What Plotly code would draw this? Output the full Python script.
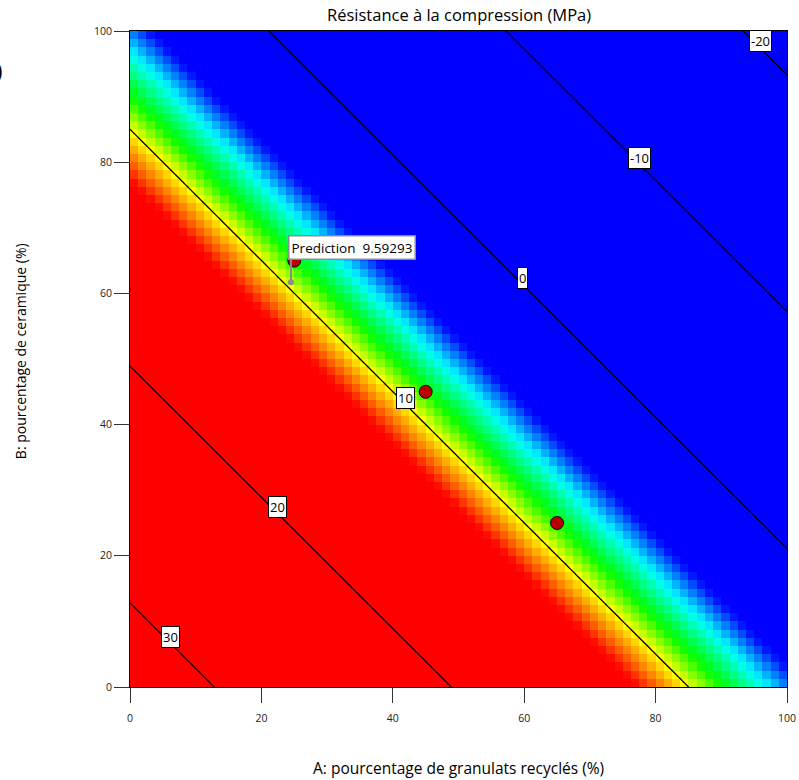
import numpy as np
import plotly.graph_objects as go

# ---- data ----
title_text = "Résistance à la compression (MPa)"
x_title = "A: pourcentage de granulats recyclés (%)"
y_title = "B: pourcentage de ceramique (%)"
tick_vals = [0, 20, 40, 60, 80, 100]
tick_text = ["0", "20", "40", "60", "80", "100"]

# fitted linear model: R = c0 + cA*A + cB*B
model_c0 = 33.55
model_cA = -0.277
model_cB = -0.277

contour_levels = [-20, -10, 0, 10, 20, 30]
design_A = [25, 45, 65]
design_B = [65, 45, 25]
pred_A = 24.5
pred_B = 61.7
pred_text = "Prediction  9.59293"

# colour stops (value -> colour)
stop_vals = [5.0, 6.7, 8.5, 10.0, 12.2]
stop_cols = ["#0000ff", "#00ffff", "#00ff00", "#ffff00", "#ff0000"]

# ---- grids ----
n_cells = 80
cw = 100.0 / n_cells
xc = (np.arange(n_cells) + 0.5) * cw
yc = (np.arange(n_cells) + 0.5) * cw
XX, YY = np.meshgrid(xc, yc)
Z = model_c0 + model_cA * XX + model_cB * YY

xf = np.linspace(0, 100, 201)
XF, YF = np.meshgrid(xf, xf)
ZF = model_c0 + model_cA * XF + model_cB * YF

zmin, zmax = stop_vals[0], stop_vals[-1]
cscale = [[(v - zmin) / (zmax - zmin), c] for v, c in zip(stop_vals, stop_cols)]

FONT = "Open Sans"

fig = go.Figure()
fig.add_trace(go.Heatmap(
    x=xc, y=yc, z=Z, zmin=zmin, zmax=zmax, colorscale=cscale,
    showscale=False, zsmooth=False, hoverinfo="skip"))
fig.add_trace(go.Contour(
    x=xf, y=xf, z=ZF, showscale=False, hoverinfo="skip",
    contours=dict(coloring="none", start=min(contour_levels),
                  end=max(contour_levels), size=10, showlabels=False),
    line=dict(color="black", width=1.3)))
fig.add_trace(go.Scatter(
    x=design_A, y=design_B, mode="markers", hoverinfo="skip",
    marker=dict(size=13, color="#b80000", line=dict(color="black", width=1))))
# prediction flag pin
fig.add_trace(go.Scatter(
    x=[pred_A, pred_A], y=[pred_B, pred_B + 3.4], mode="lines", hoverinfo="skip",
    line=dict(color="#8c8c8c", width=2)))
fig.add_trace(go.Scatter(
    x=[pred_A], y=[pred_B], mode="markers", hoverinfo="skip",
    marker=dict(size=6, color="#8c8c8c")))

annotations = []
# contour labels placed on their lines
label_A = {30: 6.2, 20: 22.5, 10: 42.0, 0: 59.7, -10: 77.6, -20: 95.9}
label_dB = 1.0
for lev in contour_levels:
    a = label_A[lev]
    b = (lev - model_c0 - model_cA * a) / model_cB + label_dB
    annotations.append(dict(
        x=a, y=b, xref="x", yref="y", text=str(lev), showarrow=False,
        bgcolor="white", bordercolor="black", borderwidth=1, borderpad=1,
        font=dict(family=FONT, size=13, color="black")))
annotations.append(dict(
    x=pred_A, y=pred_B + 3.4, xref="x", yref="y", text=pred_text,
    showarrow=False, xanchor="left", yanchor="bottom", xshift=-3,
    bgcolor="white", bordercolor="#8c8c8c", borderwidth=1.5, borderpad=2,
    font=dict(family=FONT, size=13.5, color="black")))
# titles
annotations.append(dict(x=0.5, y=1, xref="paper", yref="paper", yshift=3,
                        text=title_text, showarrow=False, yanchor="bottom",
                        font=dict(family=FONT, size=16.5, color="black")))
annotations.append(dict(x=0.5, y=0, xref="paper", yref="paper", yshift=-68,
                        text=x_title, showarrow=False, yanchor="top",
                        font=dict(family=FONT, size=15.5, color="black")))
annotations.append(dict(x=-0.1674, y=0.512, xref="paper", yref="paper",
                        text=y_title, showarrow=False, textangle=-90,
                        xanchor="center", yanchor="middle",
                        font=dict(family=FONT, size=14, color="black")))
annotations.append(dict(x=-0.1918, y=0.9405, xref="paper", yref="paper",
                        text="(b)", showarrow=False, xanchor="right",
                        yanchor="middle",
                        font=dict(family=FONT, size=22, color="black")))

axis_common = dict(range=[0, 100], tickvals=tick_vals, ticktext=tick_text,
                   ticks="outside", ticklen=15, tickwidth=1, tickcolor="#333333",
                   showgrid=False, zeroline=False, showline=True,
                   linecolor="black", linewidth=1, mirror=True,
                   tickfont=dict(family=FONT, size=10.5, color="#222222"))

fig.update_layout(
    width=799, height=780,
    margin=dict(l=130, r=12, t=31, b=93, autoexpand=False),
    paper_bgcolor="white", plot_bgcolor="white",
    showlegend=False,
    xaxis=dict(**axis_common, ticklabelstandoff=6),
    yaxis=dict(**axis_common),
    annotations=annotations,
)
fig.write_html("out.html")
